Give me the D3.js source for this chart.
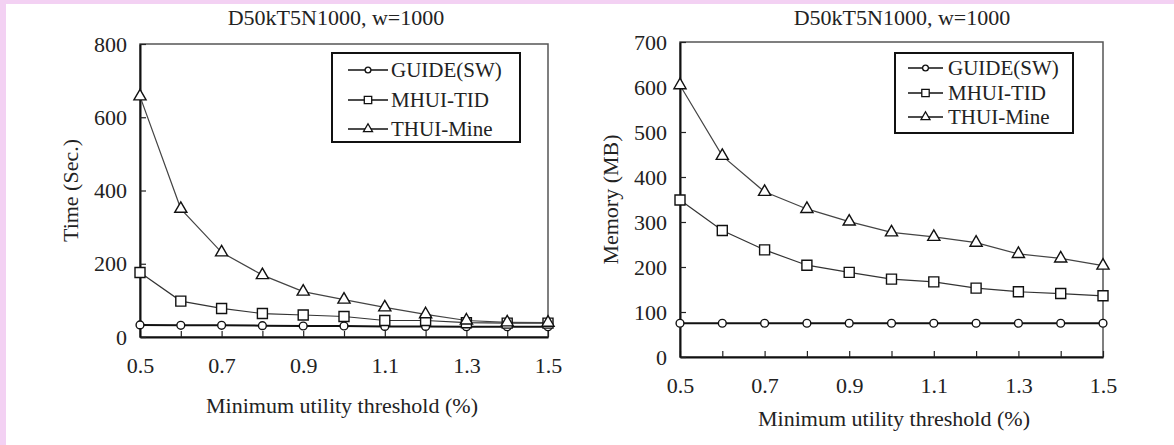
<!DOCTYPE html>
<html>
<head>
<meta charset="utf-8" />
<title>D50kT5N1000 time and memory</title>
<script src="https://d3js.org/d3.v7.min.js"></script>
<style>
  body { margin: 0; background: #fff; }
  svg text { font-family: "Liberation Serif", "Times New Roman", serif; fill: #222; }
</style>
</head>
<body>
<svg id="chart"></svg>
<script>
// x values (minimum utility threshold, %)
var thresholds = [0.5, 0.6, 0.7, 0.8, 0.9, 1.0, 1.1, 1.2, 1.3, 1.4, 1.5];
var xTickLabels = [0.5, 0.7, 0.9, 1.1, 1.3, 1.5];
var seriesNames = ["GUIDE(SW)", "MHUI-TID", "THUI-Mine"];

// left panel: runtime in seconds
var timeGuide = [33, 32, 32, 31, 30, 30, 29, 29, 28, 28, 28];
var timeMhui  = [176, 98, 78, 64, 60, 56, 45, 45, 39, 38, 38];
var timeThui  = [657, 350, 231, 169, 124, 102, 81, 62, 45, 40, 39];
var timeTicks = [0, 200, 400, 600, 800];

// right panel: memory in MB
var memGuide = [75, 75, 75, 75, 75, 75, 75, 75, 75, 75, 75];
var memMhui  = [349, 281, 238, 204, 188, 173, 167, 153, 145, 141, 136];
var memThui  = [604, 447, 367, 329, 301, 277, 267, 254, 229, 219, 203];
var memTicks = [0, 100, 200, 300, 400, 500, 600, 700];

var W = 1174, H = 445;
var svg = d3.select("#chart").attr("width", W).attr("height", H);

// pink frame of the screenshot
svg.append("rect").attr("width", W).attr("height", H).attr("fill", "#fff");
svg.append("rect").attr("width", W).attr("height", 4).attr("fill", "#f3d1f3");
svg.append("rect").attr("width", 6).attr("height", H).attr("fill", "#f3d1f3");

var symbols = [d3.symbolCircle, d3.symbolSquare, d3.symbolTriangle];
var symSizes = [48, 100, 64];
var FS = 22;

function drawPanel(p) {
  var g = svg.append("g");
  var x = d3.scaleLinear().domain([0.5, 1.5]).range([p.left, p.right]);
  var y = d3.scaleLinear().domain([0, p.yMax]).range([p.bottom, p.top]);

  // frame (top/right lighter)
  g.append("rect")
    .attr("x", p.left).attr("y", p.top)
    .attr("width", p.right - p.left).attr("height", p.bottom - p.top)
    .attr("fill", "none").attr("stroke", "#555").attr("stroke-width", 1.5);

  var xAxis = d3.axisBottom(x).tickValues(thresholds)
    .tickSizeInner(-6).tickSizeOuter(0).tickPadding(20)
    .tickFormat(function(d) {
      return xTickLabels.some(function(v) { return Math.abs(v - d) < 1e-6; }) ? d3.format(".1f")(d) : "";
    });
  var gx = g.append("g").attr("transform", "translate(0," + p.bottom + ")").call(xAxis);
  gx.select(".domain").attr("stroke", "#111").attr("stroke-width", 2);
  gx.selectAll(".tick line").attr("stroke", "#222").attr("stroke-width", 1.2);
  gx.selectAll("text").attr("font-size", FS);

  var yAxis = d3.axisLeft(y).tickValues(p.ticks)
    .tickSizeInner(-6).tickSizeOuter(0).tickPadding(13);
  var gy = g.append("g").attr("transform", "translate(" + p.left + ",0)").call(yAxis);
  gy.select(".domain").attr("stroke", "#111").attr("stroke-width", 2);
  gy.selectAll(".tick line").attr("stroke", "#222").attr("stroke-width", 1.2);
  gy.selectAll("text").attr("font-size", FS);

  // titles
  g.append("text").attr("x", p.titleX).attr("y", 17).attr("dy", "0.35em")
    .attr("text-anchor", "middle").attr("font-size", FS).text("D50kT5N1000, w=1000");
  g.append("text").attr("x", p.xTitleX).attr("y", p.xTitleY).attr("dy", "0.35em")
    .attr("text-anchor", "middle").attr("font-size", FS).text("Minimum utility threshold (%)");
  g.append("text")
    .attr("transform", "translate(" + p.yTitleX + "," + ((p.top + p.bottom) / 2) + ") rotate(-90)")
    .attr("dy", "0.35em").attr("text-anchor", "middle").attr("font-size", FS).text(p.yTitle);

  var line = d3.line().x(function(d, i) { return x(thresholds[i]); }).y(function(d) { return y(d); });
  var widths = [2, 1.2, 1.2];
  var strokes = ["#111", "#333", "#444"];

  p.series.forEach(function(vals, s) {
    g.append("path").datum(vals).attr("d", line)
      .attr("fill", "none").attr("stroke", strokes[s]).attr("stroke-width", widths[s]);
  });
  p.series.forEach(function(vals, s) {
    g.selectAll(null).data(vals).enter().append("path")
      .attr("transform", function(d, i) { return "translate(" + x(thresholds[i]) + "," + y(d) + ")"; })
      .attr("d", d3.symbol().type(symbols[s]).size(symSizes[s]))
      .attr("fill", "#fff").attr("stroke", "#111").attr("stroke-width", 1.4);
  });

  // legend
  var L = p.legend;
  g.append("rect").attr("x", L.x0).attr("y", L.y0)
    .attr("width", L.x1 - L.x0).attr("height", L.y1 - L.y0)
    .attr("fill", "#fff").attr("stroke", "#111").attr("stroke-width", 2);
  seriesNames.forEach(function(name, s) {
    var ly = L.rows[s];
    g.append("line").attr("x1", L.lx0).attr("x2", L.lx1).attr("y1", ly).attr("y2", ly)
      .attr("stroke", "#111").attr("stroke-width", 1.6);
    g.append("path").attr("transform", "translate(" + ((L.lx0 + L.lx1) / 2) + "," + ly + ")")
      .attr("d", d3.symbol().type(symbols[s]).size(symSizes[s] * 0.55))
      .attr("fill", "#fff").attr("stroke", "#111").attr("stroke-width", 1.3);
    g.append("text").attr("x", L.tx).attr("y", ly).attr("dy", "0.35em")
      .attr("font-size", 21).text(name);
  });
}

drawPanel({
  left: 140, right: 548, top: 44, bottom: 337, yMax: 800, ticks: timeTicks,
  series: [timeGuide, timeMhui, timeThui],
  titleX: 336, xTitleX: 342, xTitleY: 405, yTitleX: 70, yTitle: "Time (Sec.)",
  legend: { x0: 332, x1: 520, y0: 53, y1: 142, rows: [70, 100, 129], lx0: 348, lx1: 388, tx: 391 }
});

drawPanel({
  left: 680, right: 1103, top: 42, bottom: 357, yMax: 700, ticks: memTicks,
  series: [memGuide, memMhui, memThui],
  titleX: 902, xTitleX: 894, xTitleY: 418, yTitleX: 610, yTitle: "Memory (MB)",
  legend: { x0: 895, x1: 1073, y0: 53, y1: 133, rows: [68, 93, 117], lx0: 908, lx1: 943, tx: 948 }
});
</script>
</body>
</html>
